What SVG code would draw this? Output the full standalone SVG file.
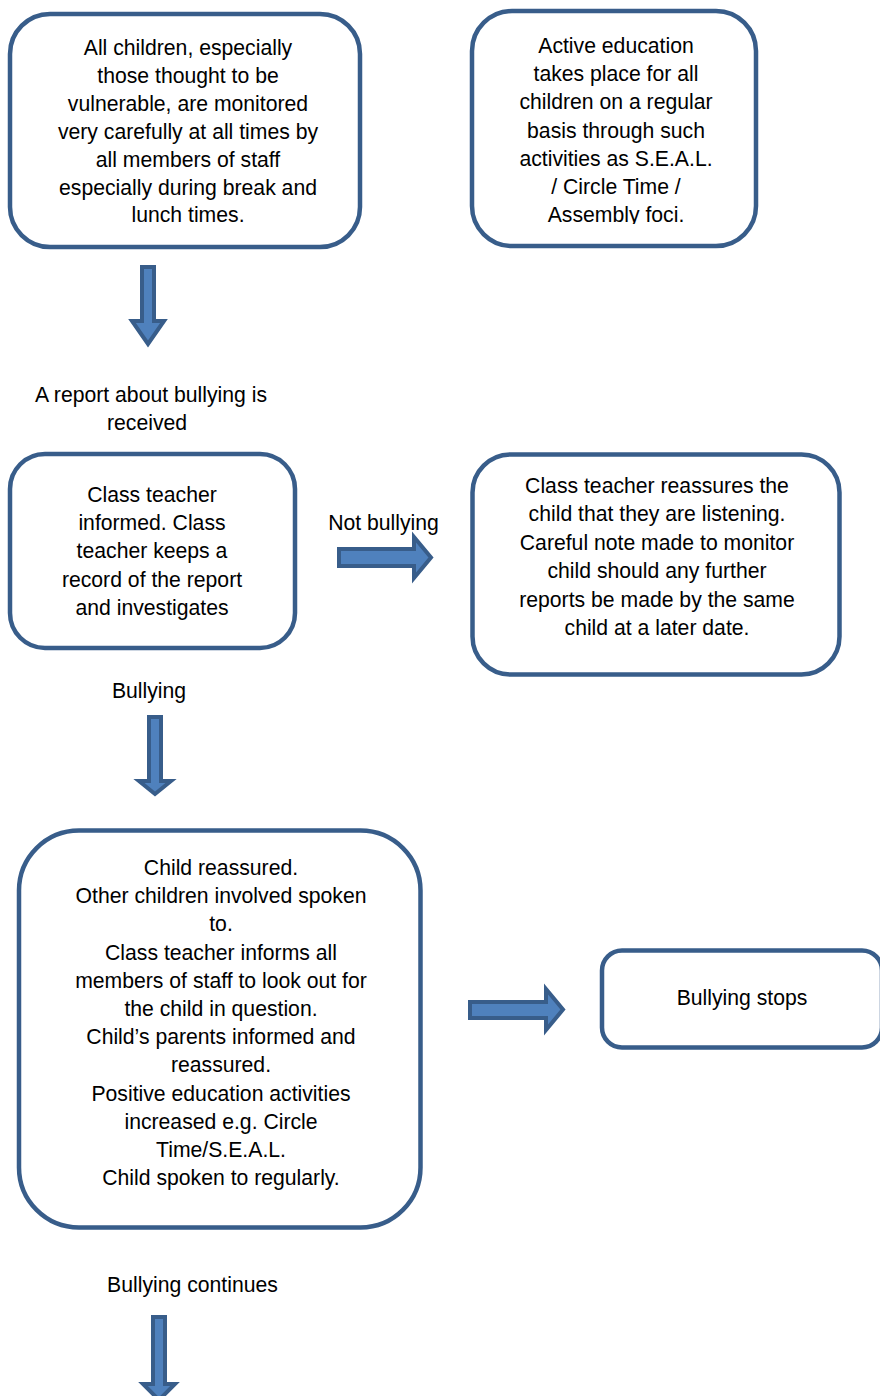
<svg xmlns="http://www.w3.org/2000/svg" width="880" height="1396" viewBox="0 0 880 1396">
<style>
.box{fill:#ffffff;stroke:#385d8a;stroke-width:4.5}
.arr{fill:#4f81bd;stroke:#385d8a;stroke-width:4;stroke-linejoin:miter}
text{font-family:"Liberation Sans",Arial,sans-serif;font-size:21.2px;fill:#000000;text-anchor:middle}
</style>
<defs>
<clipPath id="clip2"><rect x="470" y="0" width="300" height="224"/></clipPath>
</defs>
<rect width="880" height="1396" fill="#ffffff"/>
<g id="n1">
<rect class="box" x="10" y="14" width="350" height="233" rx="40" ry="40"/>
<text x="188" y="55">All children, especially</text>
<text x="188" y="83">those thought to be</text>
<text x="188" y="111">vulnerable, are monitored</text>
<text x="188" y="138.5">very carefully at all times by</text>
<text x="188" y="166.5">all members of staff</text>
<text x="188" y="194.5">especially during break and</text>
<text x="188" y="222">lunch times.</text>
</g>
<g id="n2">
<rect class="box" x="472" y="11" width="284" height="235" rx="40" ry="40"/>
<g clip-path="url(#clip2)">
<text x="616" y="53">Active education</text>
<text x="616" y="81.2">takes place for all</text>
<text x="616" y="109.4">children on a regular</text>
<text x="616" y="137.6">basis through such</text>
<text x="616" y="165.8">activities as S.E.A.L.</text>
<text x="616" y="194">/ Circle Time /</text>
<text x="616" y="222.2">Assembly foci.</text>
</g>
</g>
<g id="n3">
<text x="151" y="402">A report about bullying is</text>
<text x="147" y="430">received</text>
</g>
<g id="n4">
<rect class="box" x="10" y="454" width="285" height="194" rx="35" ry="35"/>
<text x="152" y="502">Class teacher</text>
<text x="152" y="530">informed. Class</text>
<text x="152" y="558.3">teacher keeps a</text>
<text x="152" y="586.6">record of the report</text>
<text x="152" y="615">and investigates</text>
</g>
<g id="n5">
<rect class="box" x="472.5" y="454.5" width="367" height="220" rx="38" ry="38"/>
<text x="657" y="493">Class teacher reassures the</text>
<text x="657" y="521.4">child that they are listening.</text>
<text x="657" y="549.8">Careful note made to monitor</text>
<text x="657" y="578.2">child should any further</text>
<text x="657" y="606.6">reports be made by the same</text>
<text x="657" y="635">child at a later date.</text>
</g>
<g id="n6">
<rect class="box" x="19" y="830.5" width="401.5" height="397" rx="60" ry="60"/>
<text x="221" y="875">Child reassured.</text>
<text x="221" y="903.2">Other children involved spoken</text>
<text x="221" y="931.4">to.</text>
<text x="221" y="959.6">Class teacher informs all</text>
<text x="221" y="987.8">members of staff to look out for</text>
<text x="221" y="1016">the child in question.</text>
<text x="221" y="1044.2">Child’s parents informed and</text>
<text x="221" y="1072.4">reassured.</text>
<text x="221" y="1100.6">Positive education activities</text>
<text x="221" y="1128.8">increased e.g. Circle</text>
<text x="221" y="1157">Time/S.E.A.L.</text>
<text x="221" y="1185.2">Child spoken to regularly.</text>
</g>
<g id="n7">
<rect class="box" x="602" y="950.5" width="280" height="97" rx="20" ry="20"/>
<text x="742" y="1005">Bullying stops</text>
</g>
<g id="connectors">
<polygon class="arr" points="142,267 154,267 154,321 164,321 148,344 132,321 142,321"/>
<polygon class="arr" points="339,549 414,549 414,537 431,557.5 414,578 414,566 339,566"/>
<text x="383.5" y="530">Not bullying</text>
<text x="149" y="698">Bullying</text>
<polygon class="arr" points="149,717 161,717 161,781 171,781 155,794 139,781 149,781"/>
<polygon class="arr" points="470,1002 546,1002 546,989 563,1009.5 546,1030 546,1018 470,1018"/>
<text x="192.5" y="1291.5">Bullying continues</text>
<polygon class="arr" points="153,1317 165,1317 165,1384 175,1384 159,1400 143,1384 153,1384"/>
</g>
</svg>
